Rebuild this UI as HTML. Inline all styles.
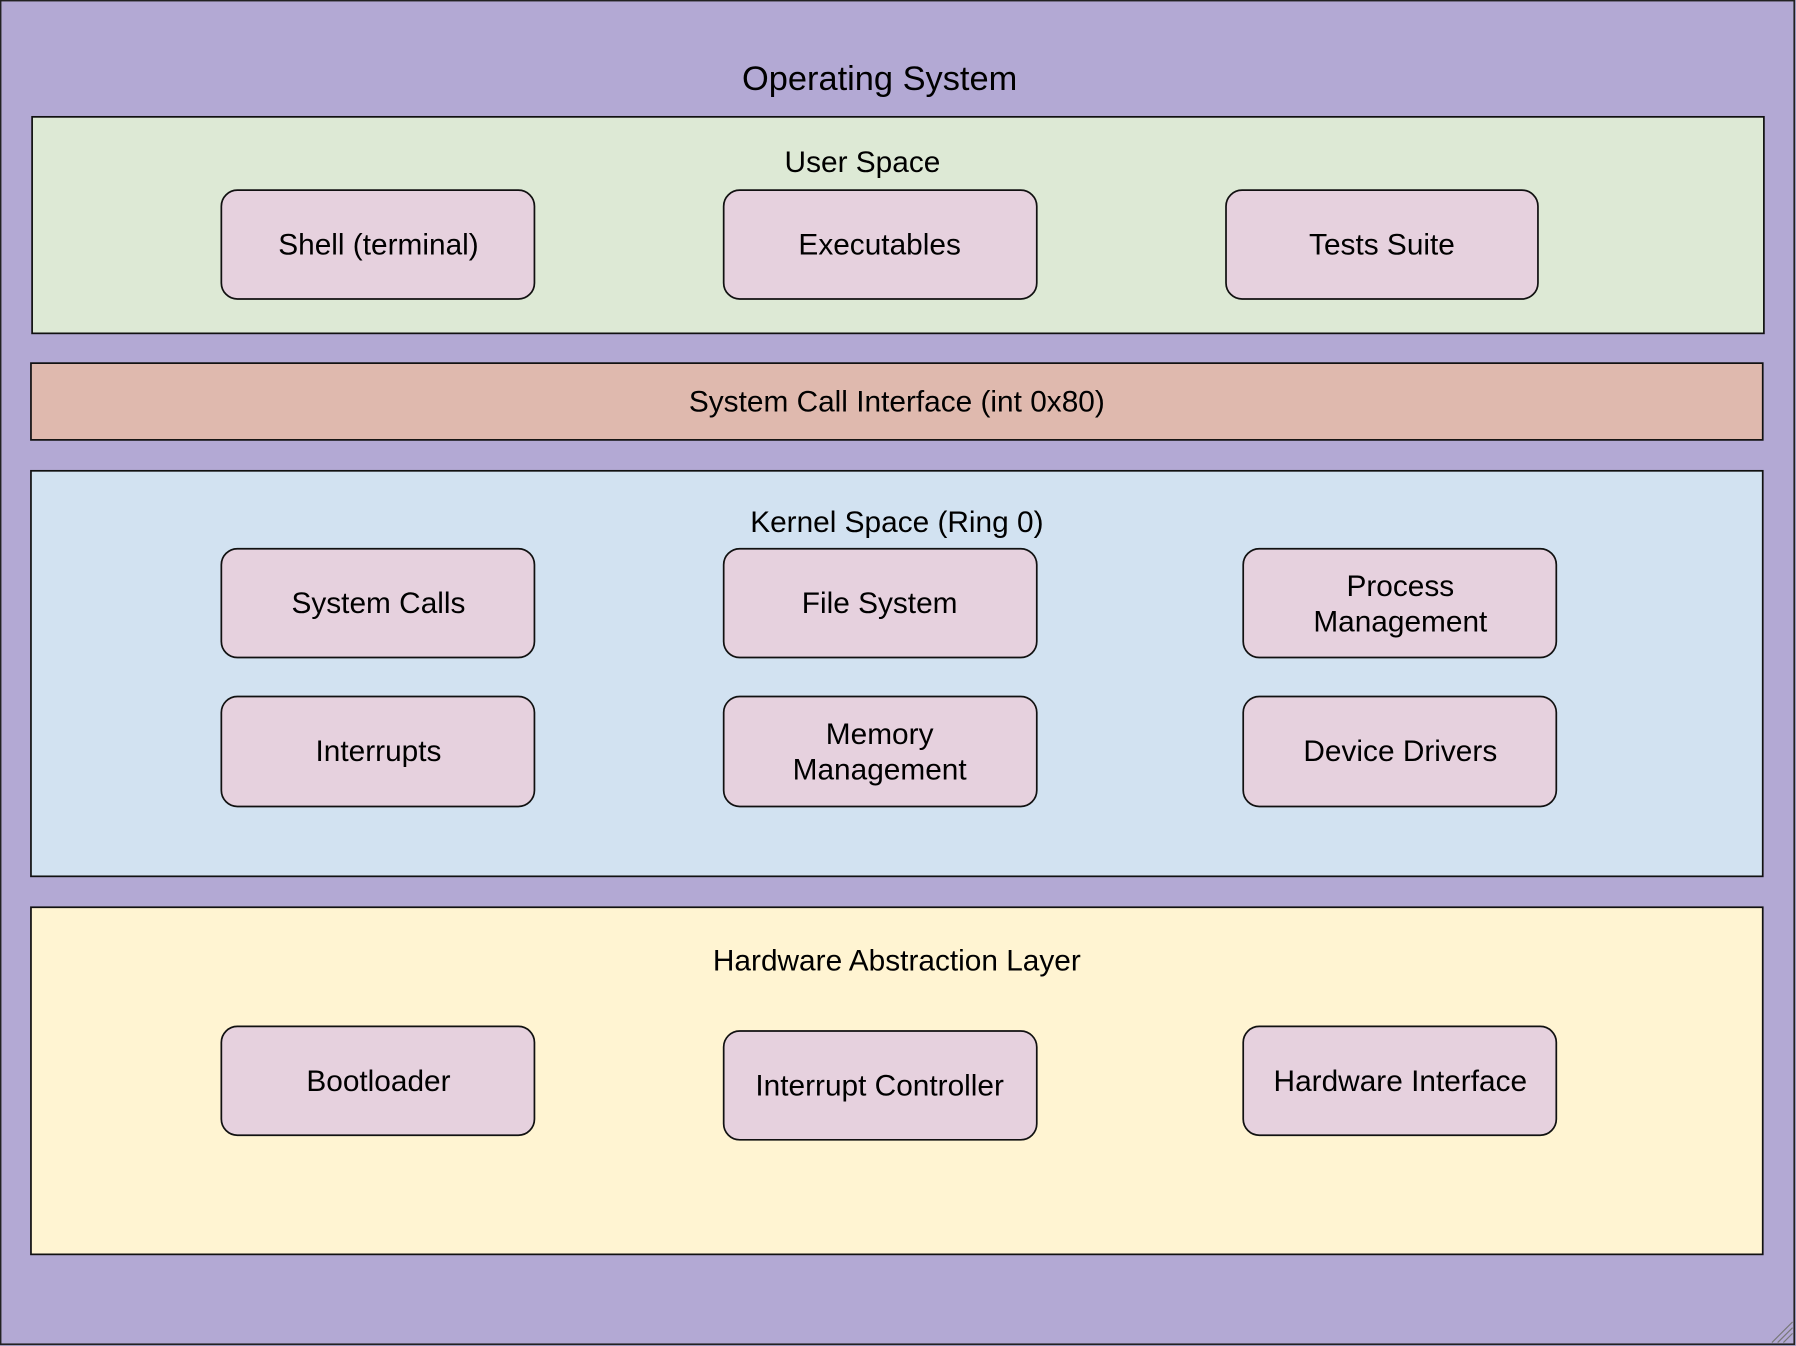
<!DOCTYPE html>
<html><head><meta charset="utf-8"><style>
html,body{margin:0;padding:0;width:1796px;height:1346px;overflow:hidden;background:#b3a9d4}
svg{display:block}
text{font-family:"Liberation Sans",Arial,sans-serif;fill:#000;text-anchor:middle;dominant-baseline:central}
</style></head><body>
<svg width="1796" height="1346" viewBox="0 0 1566 1175" preserveAspectRatio="none">
<rect x="0.5" y="0.5" width="1564" height="1173" fill="#b3a9d4" stroke="#222" stroke-width="1.5"/>
<g stroke="#777" stroke-width="1"><line x1="1545" y1="1172" x2="1563" y2="1154"/><line x1="1550" y1="1172" x2="1563" y2="1159"/><line x1="1555" y1="1172" x2="1563" y2="1164"/></g>
<text x="767" y="69" font-size="30">Operating System</text>

<rect x="28" y="102" width="1510" height="189" fill="#dde9d5" stroke="#111" stroke-width="1.5"/>
<text x="752" y="142" font-size="26">User Space</text>
<g fill="#e6d1de" stroke="#111" stroke-width="1.5">
<rect x="193" y="166" width="273" height="95" rx="14"/>
<rect x="631" y="166" width="273" height="95" rx="14"/>
<rect x="1069" y="166" width="272" height="95" rx="14"/>
</g>
<g font-size="26"><text x="330" y="214">Shell (terminal)</text><text x="767" y="214">Executables</text><text x="1205" y="214">Tests Suite</text></g>

<rect x="27" y="317" width="1510" height="67" fill="#dfb9ae" stroke="#111" stroke-width="1.5"/>
<text x="782" y="351" font-size="26">System Call Interface (int 0x80)</text>

<rect x="27" y="411" width="1510" height="354" fill="#d2e2f1" stroke="#111" stroke-width="1.5"/>
<text x="782" y="456" font-size="26">Kernel Space (Ring 0)</text>
<g fill="#e6d1de" stroke="#111" stroke-width="1.5">
<rect x="193" y="479" width="273" height="95" rx="14"/>
<rect x="631" y="479" width="273" height="95" rx="14"/>
<rect x="1084" y="479" width="273" height="95" rx="14"/>
<rect x="193" y="608" width="273" height="96" rx="14"/>
<rect x="631" y="608" width="273" height="96" rx="14"/>
<rect x="1084" y="608" width="273" height="96" rx="14"/>
</g>
<g font-size="26">
<text x="330" y="527">System Calls</text><text x="767" y="527">File System</text>
<text x="1221" y="512">Process</text><text x="1221" y="543">Management</text>
<text x="330" y="656">Interrupts</text>
<text x="767" y="641">Memory</text><text x="767" y="672">Management</text>
<text x="1221" y="656">Device Drivers</text>
</g>

<rect x="27" y="792" width="1510" height="303" fill="#fff4d2" stroke="#111" stroke-width="1.5"/>
<text x="782" y="839" font-size="26">Hardware Abstraction Layer</text>
<g fill="#e6d1de" stroke="#111" stroke-width="1.5">
<rect x="193" y="896" width="273" height="95" rx="14"/>
<rect x="631" y="900" width="273" height="95" rx="14"/>
<rect x="1084" y="896" width="273" height="95" rx="14"/>
</g>
<g font-size="26"><text x="330" y="944">Bootloader</text><text x="767" y="948">Interrupt Controller</text><text x="1221" y="944">Hardware Interface</text></g>
</svg>
</body></html>
